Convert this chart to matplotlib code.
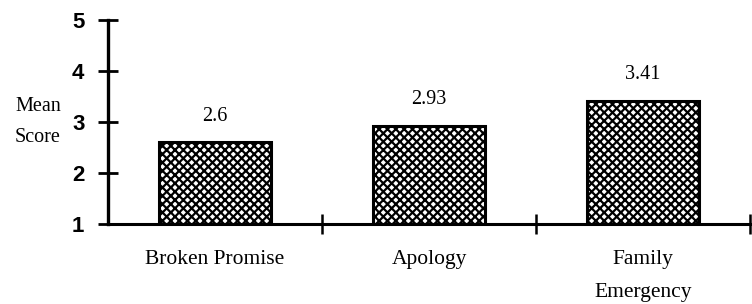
import matplotlib.pyplot as plt

categories = ["Broken Promise", "Apology", "Family\nEmergency"]
scores = [2.6, 2.93, 3.41]
score_labels = ["2.6", "2.93", "3.41"]
yticks = [1, 2, 3, 4, 5]

plt.rcParams['hatch.linewidth'] = 1.6
plt.rcParams['hatch.color'] = 'black'

fig = plt.figure(figsize=(7.52, 3.04), dpi=100)
ax = fig.add_axes([108/752, 80/304, (750-108)/752, (224-20)/304])

xs = [i + 0.5 for i in range(len(categories))]
ax.bar(xs, [s - 1 for s in scores], bottom=1, width=0.52,
       facecolor='white', edgecolor='black', hatch='xxxx', linewidth=2.2)

for x, s, lab in zip(xs, scores, score_labels):
    ax.annotate(lab, (x, s), xytext=(0, 19), textcoords='offset points',
                ha='center', va='center', fontsize=14.5, family='Liberation Serif')

ax.set_xlim(0, 3)
ax.set_ylim(1, 5)
for side in ['top', 'right']:
    ax.spines[side].set_visible(False)
ax.spines['left'].set_linewidth(2.4)
ax.spines['bottom'].set_linewidth(2.2)

ax.set_yticks(yticks)
ax.set_yticklabels([str(t) for t in yticks], fontsize=16, fontweight='bold',
                   family='Liberation Sans')
ax.tick_params(axis='y', direction='inout', length=14, width=2, pad=10)

ax.set_xticks([1, 2, 3])
ax.set_xticklabels([])
ax.tick_params(axis='x', direction='inout', length=14, width=1.8)
ax.set_xticks(xs, minor=True)
ax.set_xticklabels(categories, minor=True, fontsize=15.5, family='Liberation Serif',
                   linespacing=2.0)
ax.tick_params(axis='x', which='minor', length=0, pad=19)

fig.text(38/752, 1 - 122/304, "Mean\nScore", ha='center', va='center',
         multialignment='center', fontsize=14.5, family='Liberation Serif',
         linespacing=1.8)

fig.savefig("out.png", dpi=100)
